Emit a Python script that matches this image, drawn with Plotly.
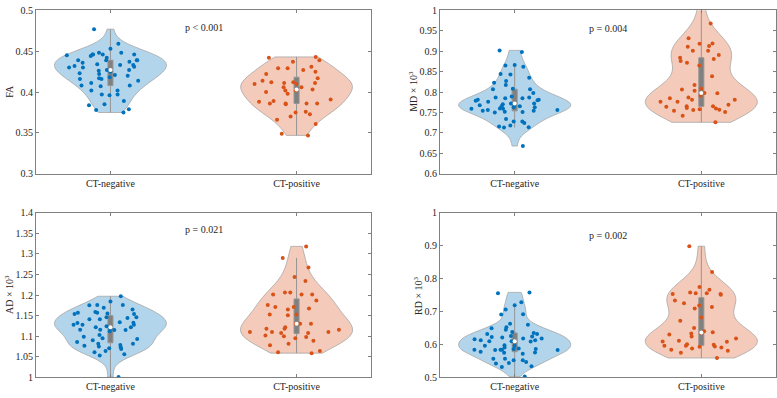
import numpy as np
import plotly.graph_objects as go

categories = ["CT-negative", "CT-positive"]

fa_neg = [0.477, 0.459, 0.453, 0.448, 0.448, 0.446, 0.446, 0.446, 0.446, 0.444, 0.442, 0.439,
          0.445, 0.439, 0.439, 0.439, 0.437, 0.436, 0.433, 0.433, 0.434, 0.432, 0.431, 0.430,
          0.430, 0.427, 0.427, 0.426, 0.425, 0.423, 0.421, 0.422, 0.420, 0.418, 0.416, 0.417,
          0.416, 0.414, 0.411, 0.407, 0.408, 0.408, 0.402, 0.402, 0.397, 0.396, 0.397, 0.389,
          0.385, 0.384, 0.379, 0.378, 0.375]
fa_pos = [0.443, 0.442, 0.439, 0.437, 0.431, 0.429, 0.429, 0.427, 0.425, 0.422, 0.412, 0.414,
          0.411, 0.411, 0.410, 0.412, 0.410, 0.406, 0.406, 0.403, 0.402, 0.402, 0.398, 0.400,
          0.389, 0.388, 0.391, 0.386, 0.386, 0.386, 0.386, 0.385, 0.376, 0.375, 0.373, 0.370,
          0.366, 0.361, 0.349, 0.347, 0.417]

md_neg = [0.902, 0.898, 0.866, 0.865, 0.862, 0.844, 0.843, 0.835, 0.827, 0.823, 0.817, 0.807,
          0.807, 0.808, 0.798, 0.789, 0.785, 0.785, 0.787, 0.787, 0.780, 0.781, 0.781, 0.779,
          0.776, 0.772, 0.772, 0.770, 0.769, 0.765, 0.765, 0.768, 0.763, 0.759, 0.759, 0.760,
          0.763, 0.756, 0.754, 0.756, 0.754, 0.752, 0.751, 0.750, 0.734, 0.728, 0.728, 0.724,
          0.718, 0.716, 0.714, 0.713, 0.668]
md_pos = [1.040, 0.968, 0.932, 0.919, 0.918, 0.911, 0.913, 0.901, 0.901, 0.891, 0.884, 0.881,
          0.876, 0.872, 0.865, 0.839, 0.817, 0.803, 0.808, 0.806, 0.797, 0.798, 0.785, 0.787,
          0.791, 0.781, 0.781, 0.776, 0.776, 0.769, 0.765, 0.765, 0.764, 0.761, 0.756, 0.751,
          0.757, 0.754, 0.742, 0.726, 0.760, 0.758]

ad_neg = [1.197, 1.184, 1.176, 1.176, 1.175, 1.165, 1.169, 1.155, 1.159, 1.157, 1.154, 1.154,
          1.157, 1.146, 1.146, 1.144, 1.141, 1.141, 1.132, 1.134, 1.133, 1.128, 1.128, 1.128,
          1.122, 1.124, 1.122, 1.120, 1.115, 1.115, 1.116, 1.116, 1.112, 1.099, 1.103, 1.093,
          1.090, 1.095, 1.086, 1.082, 1.082, 1.079, 1.073, 1.071, 1.069, 1.077, 1.075, 1.064,
          1.061, 1.056, 1.053, 1.001]
ad_pos = [1.318, 1.290, 1.267, 1.244, 1.234, 1.201, 1.201, 1.201, 1.206, 1.206, 1.187, 1.176,
          1.171, 1.167, 1.171, 1.165, 1.153, 1.153, 1.151, 1.130, 1.130, 1.122, 1.116, 1.118,
          1.118, 1.108, 1.108, 1.110, 1.110, 1.110, 1.102, 1.100, 1.098, 1.095, 1.089, 1.078,
          1.082, 1.064, 1.061, 1.059, 1.130]

rd_neg = [0.758, 0.755, 0.728, 0.719, 0.706, 0.692, 0.691, 0.660, 0.663, 0.652, 0.638, 0.645,
          0.649, 0.632, 0.632, 0.623, 0.626, 0.635, 0.618, 0.624, 0.618, 0.616, 0.621, 0.613,
          0.613, 0.610, 0.609, 0.610, 0.598, 0.591, 0.596, 0.596, 0.588, 0.586, 0.584, 0.584,
          0.584, 0.586, 0.583, 0.583, 0.578, 0.576, 0.572, 0.575, 0.557, 0.557, 0.552, 0.552,
          0.547, 0.542, 0.544, 0.532, 0.534, 0.503]
rd_pos = [0.898, 0.820, 0.774, 0.758, 0.755, 0.751, 0.766, 0.753, 0.753, 0.755, 0.733, 0.725,
          0.718, 0.709, 0.714, 0.682, 0.672, 0.650, 0.637, 0.630, 0.640, 0.633, 0.618, 0.624,
          0.611, 0.609, 0.608, 0.635, 0.601, 0.596, 0.588, 0.596, 0.599, 0.594, 0.581, 0.593,
          0.591, 0.584, 0.575, 0.559]

y_labels = ["FA", "MD × 10<sup>3</sup>", "AD × 10<sup>3</sup>", "RD × 10<sup>3</sup>"]
p_texts = ["p < 0.001", "p = 0.004", "p = 0.021", "p = 0.002"]
p_y = [0.479, 0.955, 1.358, 0.93]
y_ranges = [[0.3, 0.5], [0.6, 1.0], [1.0, 1.4], [0.5, 1.0]]
y_dticks = [0.05, 0.05, 0.05, 0.1]
panel_data = [(fa_neg, fa_pos), (md_neg, md_pos), (ad_neg, ad_pos), (rd_neg, rd_pos)]

W, H = 777, 398


def fx(px):
    return px / W


def fy(py):
    return 1 - py / H


x_domains = [[fx(36), fx(371)], [fx(440), fx(776)], [fx(36), fx(371)], [fx(440), fx(776)]]
y_domains = [[fy(173), fy(4.5)], [fy(173), fy(4.5)], [fy(383), fy(213)], [fy(383), fy(213)]]
ylab_pos = [(10, 88.5), (413, 88.5), (9, 298), (418, 298)]

pt_colors = ["#0072BD", "#D95319"]
fill_colors = ["#b3d5eb", "#f4cbba"]

FONT = "Liberation Serif, Times New Roman, DejaVu Serif, serif"
TXT = "#262626"

fig = go.Figure()
annotations = []
layout = dict(width=W, height=H, margin=dict(l=0, r=0, t=0, b=0),
              plot_bgcolor="white", paper_bgcolor="white", showlegend=False,
              font=dict(family=FONT, size=10, color=TXT))

for i, (neg, pos) in enumerate(panel_data):
    k = "" if i == 0 else str(i + 1)
    xa, ya = "x" + k, "y" + k
    for j, vals in enumerate((neg, pos)):
        fig.add_trace(go.Violin(
            y=vals, x0=j + 1, name=categories[j], xaxis=xa, yaxis=ya,
            width=0.6, scalemode="width", spanmode="hard",
            fillcolor=fill_colors[j], opacity=1,
            line=dict(color="#a6a6a6", width=0.8),
            points="all", pointpos=0, jitter=0.9,
            marker=dict(color=pt_colors[j], size=4, line=dict(width=0)),
            box=dict(visible=True, width=0.045, fillcolor="#808080",
                     line=dict(color="#959595", width=1)),
            meanline=dict(visible=False), hoverinfo="y"))
        fig.add_trace(go.Scatter(
            x=[j + 1], y=[float(np.median(vals))], mode="markers", xaxis=xa, yaxis=ya,
            marker=dict(color="white", size=4, line=dict(width=0)), hoverinfo="skip"))
    layout["xaxis" + k] = dict(domain=x_domains[i], range=[0.6, 2.4], tickmode="array",
                               tickvals=[1, 2], ticktext=categories, ticks="inside",
                               ticklen=3, tickcolor="#808080", showline=True,
                               linecolor="#808080", linewidth=1, mirror="allticks",
                               showgrid=False, zeroline=False, anchor=ya, fixedrange=True,
                               tickfont=dict(family=FONT, size=10, color=TXT))
    layout["yaxis" + k] = dict(domain=y_domains[i], range=y_ranges[i], dtick=y_dticks[i],
                               tick0=0, ticks="inside", ticklen=3, tickcolor="#808080",
                               showline=True, linecolor="#808080", linewidth=1,
                               mirror="allticks", showgrid=False, zeroline=False,
                               anchor=xa, tickformat="~g",
                               tickfont=dict(family=FONT, size=10, color=TXT))
    annotations.append(dict(x=1.5, y=p_y[i], xref=xa, yref=ya, text=p_texts[i],
                            showarrow=False, font=dict(family=FONT, size=10, color=TXT)))
    lx, ly = ylab_pos[i]
    annotations.append(dict(x=fx(lx), y=fy(ly), xref="paper", yref="paper",
                            text=y_labels[i], textangle=-90, showarrow=False,
                            xanchor="center", yanchor="middle",
                            font=dict(family=FONT, size=10, color=TXT)))

layout["annotations"] = annotations
fig.update_layout(**layout)
fig.write_html("out.html", config={"displayModeBar": False, "staticPlot": True},
               post_script="document.body.style.margin='0px';document.body.style.padding='0px';")
